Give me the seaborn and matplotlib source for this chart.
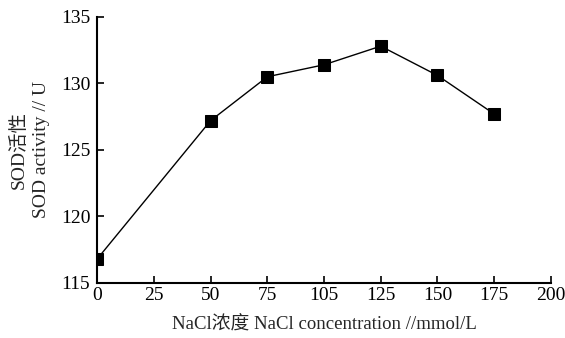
import seaborn as sns
import matplotlib.pyplot as plt
import pandas as pd

# NaCl concentration (mmol/L) and SOD activity
nacl_conc = [0, 50, 75, 100, 125, 150, 175]
sod_activity = [116.8, 127.2, 130.5, 131.4, 132.8, 130.6, 127.7]

x_ticks = [0, 25, 50, 75, 100, 125, 150, 175, 200]
x_tick_labels = ["0", "25", "50", "75", "105", "125", "150", "175", "200"]
y_ticks = [115, 120, 125, 130, 135]


def plot_sod():
    df = pd.DataFrame({"conc": nacl_conc, "sod": sod_activity})

    sns.set_style("ticks")
    plt.rcParams["font.family"] = ["Liberation Serif", "Noto Sans CJK SC"]

    fig = plt.figure(figsize=(5.65, 3.38), dpi=100)
    ax = fig.add_axes([0.172, 0.163, 0.803, 0.787])
    sns.lineplot(data=df, x="conc", y="sod", ax=ax, color="black", linewidth=1.0,
                 marker="s", markersize=8, markeredgecolor="black", markerfacecolor="black")

    ax.set_xlim(0, 200)
    ax.set_ylim(115, 135)
    ax.set_xticks(x_ticks)
    ax.set_xticklabels(x_tick_labels)
    ax.set_yticks(y_ticks)
    ax.tick_params(direction="in", length=5, width=1.2, labelsize=14, colors="black")
    ax.tick_params(axis="y", pad=5)
    ax.tick_params(axis="x", pad=3)
    for side in ["left", "bottom"]:
        ax.spines[side].set_linewidth(1.5)
        ax.spines[side].set_color("black")
    sns.despine(ax=ax)

    ax.set_xlabel("NaCl浓度 NaCl concentration //mmol/L", fontsize=13.5, labelpad=9)
    ax.set_ylabel("SOD活性\nSOD activity // U", fontsize=14, labelpad=8, linespacing=1.35)

    fig.savefig("out.png", dpi=100)


if __name__ == "__main__":
    plot_sod()
